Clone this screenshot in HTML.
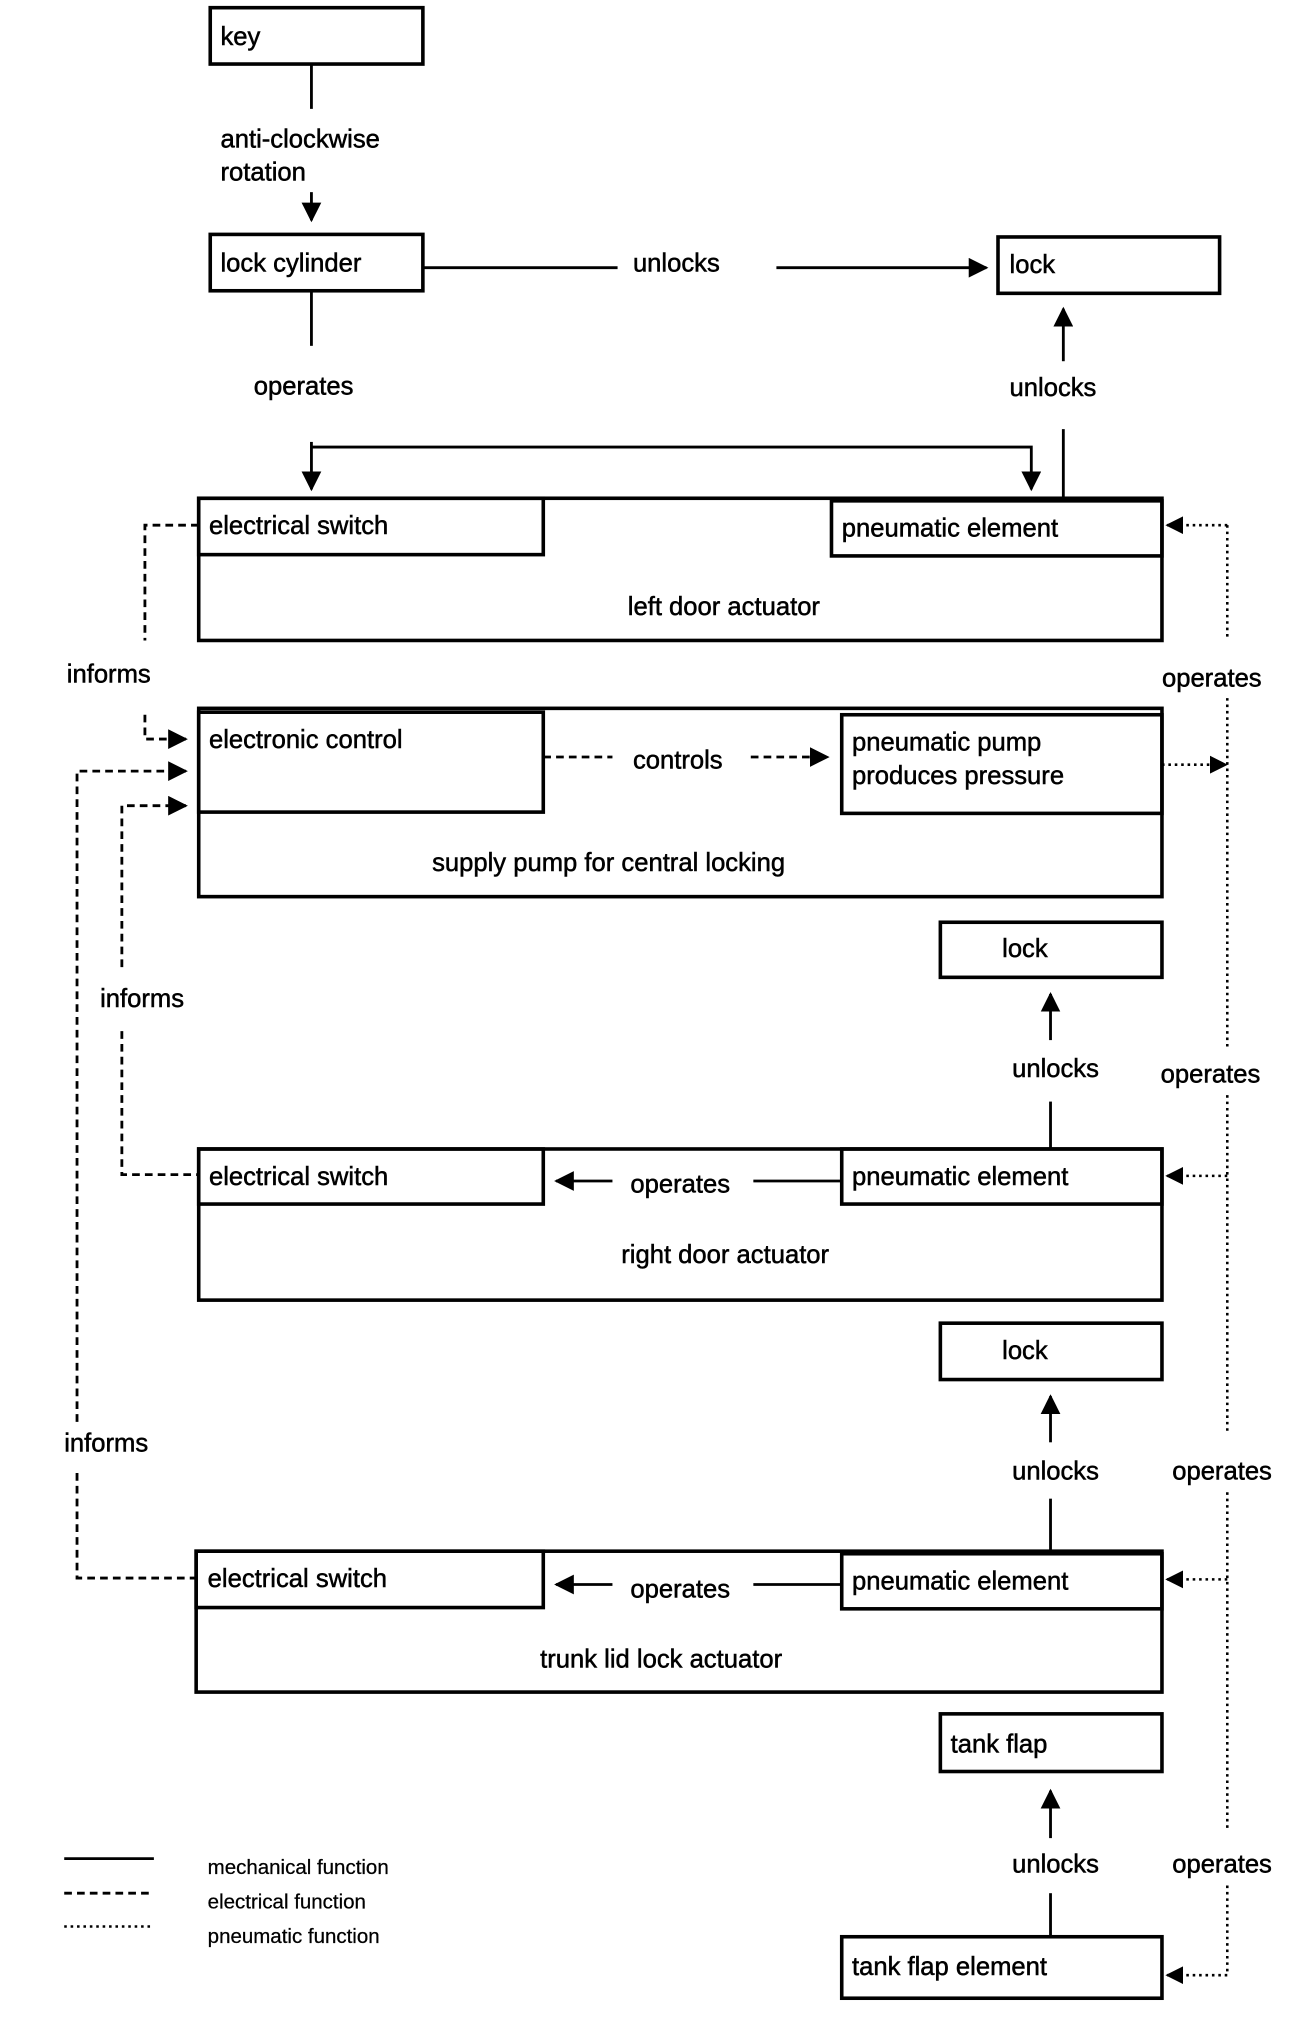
<!DOCTYPE html>
<html><head><meta charset="utf-8"><style>html,body{margin:0;padding:0;background:#fff}svg{display:block}</style></head>
<body>
<svg width="1312" height="2020" viewBox="0 0 1024 1577" xmlns="http://www.w3.org/2000/svg">
<defs>
<marker id="a" viewBox="0 0 10 10" refX="9" refY="5" markerWidth="7" markerHeight="7" orient="auto"><path d="M0,0L10,5L0,10z" fill="#000"/></marker>
</defs>
<style>
text{font-family:"Liberation Sans",sans-serif;font-size:20px;fill:#000;stroke:#000;stroke-width:0.4}
.b{fill:none;stroke:#000;stroke-width:2.8}
.l{fill:none;stroke:#000;stroke-width:2.2}
.d{fill:none;stroke:#000;stroke-width:2.2;stroke-dasharray:6,4}
.o{fill:none;stroke:#000;stroke-width:2;stroke-dasharray:2,3}
.s{font-size:16px;stroke-width:0.2}
</style>
<rect class="b" x="164" y="6" width="166" height="44"/>
<text x="172" y="35">key</text>
<rect class="b" x="164" y="183" width="166" height="44"/>
<text x="172" y="212">lock cylinder</text>
<rect class="b" x="779" y="185" width="173" height="44"/>
<text x="788" y="213">lock</text>

<line class="l" x1="243" y1="50" x2="243" y2="85"/>
<text x="172" y="115">anti-clockwise</text>
<text x="172" y="141">rotation</text>
<line class="l" x1="243" y1="150" x2="243" y2="172" marker-end="url(#a)"/>
<line class="l" x1="330" y1="209" x2="482" y2="209"/>
<text x="494" y="212">unlocks</text>
<line class="l" x1="606" y1="209" x2="770" y2="209" marker-end="url(#a)"/>
<line class="l" x1="243" y1="227" x2="243" y2="270"/>
<text x="198" y="308">operates</text>
<line class="l" x1="243" y1="345" x2="243" y2="382" marker-end="url(#a)"/>
<polyline class="l" points="243,349 805,349 805,382" marker-end="url(#a)"/>
<text x="788" y="309">unlocks</text>
<line class="l" x1="830" y1="282" x2="830" y2="241" marker-end="url(#a)"/>
<line class="l" x1="830" y1="335" x2="830" y2="389"/>

<rect class="b" x="155" y="389" width="752" height="111"/>
<rect class="b" x="155" y="389" width="269" height="44"/>
<text x="163" y="417">electrical switch</text>
<rect class="b" x="649" y="391" width="258" height="43"/>
<text x="657" y="419">pneumatic element</text>
<text x="565" y="480" text-anchor="middle">left door actuator</text>
<polyline class="d" points="155,410 113,410 113,500"/>
<text x="52" y="533">informs</text>
<polyline class="d" points="113,558 113,577 145,577" marker-end="url(#a)"/>

<rect class="b" x="155" y="553" width="752" height="147"/>
<rect class="b" x="155" y="556" width="269" height="78"/>
<text x="163" y="584">electronic control</text>
<rect class="b" x="657" y="558" width="250" height="77"/>
<text x="665" y="586">pneumatic pump</text>
<text x="665" y="612">produces pressure</text>
<line class="d" x1="424" y1="591" x2="478" y2="591"/>
<text x="494" y="600">controls</text>
<line class="d" x1="586" y1="591" x2="646" y2="591" marker-end="url(#a)"/>
<text x="475" y="680" text-anchor="middle">supply pump for central locking</text>
<polyline class="d" points="60,1110 60,602 145,602" marker-end="url(#a)"/>
<polyline class="d" points="95,755 95,629 145,629" marker-end="url(#a)"/>
<text x="78" y="786">informs</text>
<polyline class="d" points="95,805 95,917 155,917"/>
<text x="50" y="1133">informs</text>
<polyline class="d" points="60,1150 60,1232 153,1232"/>

<line class="o" x1="958" y1="410" x2="958" y2="500"/>
<line class="o" x1="958" y1="410" x2="911" y2="410" marker-end="url(#a)"/>
<text x="907" y="536">operates</text>
<line class="o" x1="958" y1="545" x2="958" y2="820"/>
<line class="o" x1="907" y1="597" x2="957" y2="597" marker-end="url(#a)"/>
<text x="906" y="845">operates</text>
<line class="o" x1="958" y1="855" x2="958" y2="1120"/>
<line class="o" x1="958" y1="918" x2="911" y2="918" marker-end="url(#a)"/>
<text x="915" y="1155">operates</text>
<line class="o" x1="958" y1="1165" x2="958" y2="1430"/>
<line class="o" x1="958" y1="1233" x2="911" y2="1233" marker-end="url(#a)"/>
<text x="915" y="1462">operates</text>
<polyline class="o" points="958,1472 958,1542 911,1542" marker-end="url(#a)"/>

<rect class="b" x="734" y="720" width="173" height="43"/>
<text x="800" y="747" text-anchor="middle">lock</text>
<line class="l" x1="820" y1="812" x2="820" y2="776" marker-end="url(#a)"/>
<text x="790" y="841">unlocks</text>
<line class="l" x1="820" y1="860" x2="820" y2="898"/>

<rect class="b" x="155" y="897" width="752" height="118"/>
<rect class="b" x="155" y="897" width="269" height="43"/>
<text x="163" y="925">electrical switch</text>
<rect class="b" x="657" y="897" width="250" height="43"/>
<text x="665" y="925">pneumatic element</text>
<line class="l" x1="657" y1="922" x2="588" y2="922"/>
<text x="492" y="931">operates</text>
<line class="l" x1="478" y1="922" x2="434" y2="922" marker-end="url(#a)"/>
<text x="566" y="986" text-anchor="middle">right door actuator</text>

<rect class="b" x="734" y="1033" width="173" height="44"/>
<text x="800" y="1061" text-anchor="middle">lock</text>
<line class="l" x1="820" y1="1126" x2="820" y2="1090" marker-end="url(#a)"/>
<text x="790" y="1155">unlocks</text>
<line class="l" x1="820" y1="1170" x2="820" y2="1212"/>

<rect class="b" x="153" y="1211" width="754" height="110"/>
<rect class="b" x="153" y="1211" width="271" height="44"/>
<text x="162" y="1239">electrical switch</text>
<rect class="b" x="657" y="1213" width="250" height="43"/>
<text x="665" y="1241">pneumatic element</text>
<line class="l" x1="657" y1="1237" x2="588" y2="1237"/>
<text x="492" y="1247">operates</text>
<line class="l" x1="478" y1="1237" x2="434" y2="1237" marker-end="url(#a)"/>
<text x="516" y="1302" text-anchor="middle">trunk lid lock actuator</text>

<rect class="b" x="734" y="1338" width="173" height="45"/>
<text x="742" y="1368">tank flap</text>
<line class="l" x1="820" y1="1435" x2="820" y2="1398" marker-end="url(#a)"/>
<text x="790" y="1462">unlocks</text>
<line class="l" x1="820" y1="1478" x2="820" y2="1512"/>
<rect class="b" x="657" y="1512" width="250" height="48"/>
<text x="665" y="1542">tank flap element</text>

<line class="l" x1="50" y1="1451" x2="120" y2="1451"/>
<line class="d" x1="50" y1="1478" x2="120" y2="1478"/>
<line class="o" x1="50" y1="1504" x2="120" y2="1504"/>
<text class="s" x="162" y="1463">mechanical function</text>
<text class="s" x="162" y="1490">electrical function</text>
<text class="s" x="162" y="1517">pneumatic function</text>
</svg>
</body></html>
